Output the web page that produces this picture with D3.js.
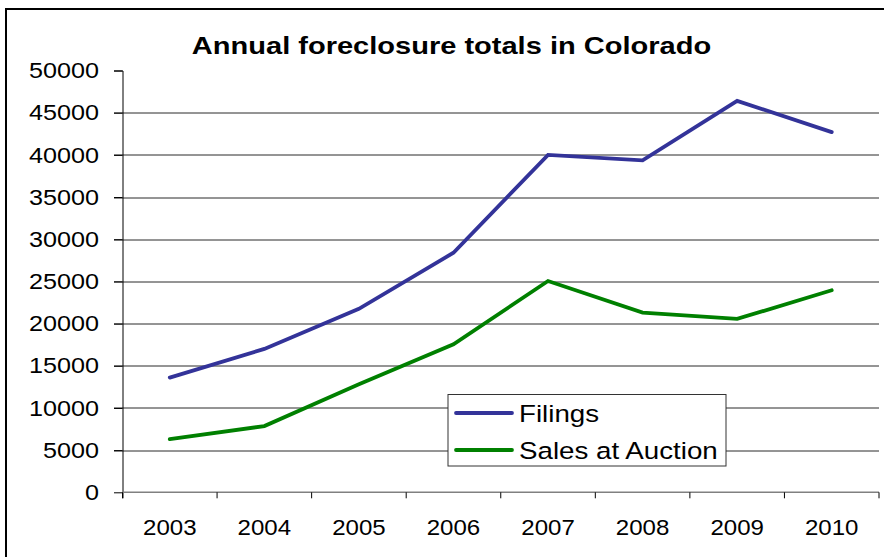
<!DOCTYPE html>
<html>
<head>
<meta charset="utf-8">
<script src="https://cdn.jsdelivr.net/npm/d3@7"></script>
<style>
  body { margin: 0; background: #fff; }
  text { font-family: "Liberation Sans", Arial, sans-serif; }
</style>
</head>
<body>
<div id="chart"></div>
<script>
// data
var years = ["2003", "2004", "2005", "2006", "2007", "2008", "2009", "2010"];
var filings = [13600, 17000, 21750, 28400, 40000, 39350, 46400, 42700];
var sales = [6300, 7850, 12800, 17550, 25050, 21300, 20550, 23950];
var yTicks = [0, 5000, 10000, 15000, 20000, 25000, 30000, 35000, 40000, 45000, 50000];
var seriesNames = ["Filings", "Sales at Auction"];

var svgWidth = 884;
var svgHeight = 557;

var margin = { top: 70.5, right: 5, bottom: 64.7, left: 122.5 };
var width = svgWidth - margin.left - margin.right;
var height = svgHeight - margin.top - margin.bottom;

// the picture's text is a bit wider than the font
var sx = 1.12;

var svg = d3.select("#chart")
  .append("svg")
  .attr("width", svgWidth)
  .attr("height", svgHeight);

// outer chart border, runs off the right and bottom
svg.append("rect")
  .attr("x", 6)
  .attr("y", 9)
  .attr("width", 900)
  .attr("height", 600)
  .attr("fill", "#fff")
  .attr("stroke", "#000")
  .attr("stroke-width", 2);

var chartGroup = svg.append("g")
  .attr("transform", `translate(${margin.left}, ${margin.top})`);

var xScale = d3.scaleBand()
  .domain(years)
  .range([0, width]);

var yScale = d3.scaleLinear()
  .domain([0, 50000])
  .range([height, 0]);

var xMid = d => xScale(d) + xScale.bandwidth() / 2;

// gridlines
chartGroup.append("g")
  .selectAll("line")
  .data(yTicks.filter(d => d > 0 && d < 50000))
  .enter()
  .append("line")
  .attr("x1", -8.5)
  .attr("x2", width)
  .attr("y1", d => Math.round(yScale(d)) + 0.5)
  .attr("y2", d => Math.round(yScale(d)) + 0.5)
  .attr("stroke", "#2a2a2a")
  .attr("stroke-width", 1);

// y axis
var leftAxis = d3.axisLeft(yScale)
  .tickValues(yTicks)
  .tickSize(8.5)
  .tickPadding(15)
  .tickFormat(d3.format("d"));

var yAxis = chartGroup.append("g").call(leftAxis);
yAxis.select(".domain").attr("stroke", "#000").attr("d", `M-8.5,0.5H0.5V${height + 6}`);
yAxis.selectAll(".tick line").attr("stroke", "#000");
yAxis.selectAll("text")
  .attr("x", -23.5 / sx)
  .attr("transform", `scale(${sx},1)`)
  .attr("font-size", "22.5px")
  .attr("fill", "#000");

// x axis
var bottomAxis = d3.axisBottom(xScale)
  .tickSize(0)
  .tickPadding(0)
  .tickFormat("");

var xAxis = chartGroup.append("g")
  .attr("transform", `translate(0, ${height})`)
  .call(bottomAxis);
xAxis.select(".domain").attr("stroke", "#808080").attr("stroke-width", 1.5).attr("d", `M0,0H${width}`);

xAxis.selectAll(".bound")
  .data(years.map(d => xScale(d)).concat([width]))
  .enter()
  .append("line")
  .attr("class", "bound")
  .attr("x1", d => d)
  .attr("x2", d => d)
  .attr("y1", 0)
  .attr("y2", 6)
  .attr("stroke", "#000");

chartGroup.append("g")
  .selectAll("text")
  .data(years)
  .enter()
  .append("text")
  .attr("transform", d => `translate(${xMid(d)}, ${height + 42.7}) scale(${sx},1)`)
  .attr("text-anchor", "middle")
  .attr("font-size", "21.5px")
  .text(d => d);

// lines
var line = d3.line()
  .x((d, i) => xMid(years[i]))
  .y(d => yScale(d));

var colors = ["#333399", "#008000"];

[filings, sales].forEach(function(values, i) {
  chartGroup.append("path")
    .datum(values)
    .attr("d", line)
    .attr("fill", "none")
    .attr("stroke", colors[i])
    .attr("stroke-width", 3.8)
    .attr("stroke-linejoin", "miter")
    .attr("stroke-linecap", "round");
});

// title
svg.append("text")
  .attr("transform", "translate(451.5, 53.5) scale(1.21,1)")
  .attr("text-anchor", "middle")
  .attr("font-size", "24px")
  .attr("font-weight", "bold")
  .text("Annual foreclosure totals in Colorado");

// legend
var legend = svg.append("g")
  .attr("transform", "translate(448, 394.5)");

legend.append("rect")
  .attr("width", 278)
  .attr("height", 71.5)
  .attr("fill", "#fff")
  .attr("stroke", "#333")
  .attr("stroke-width", 1);

seriesNames.forEach(function(name, i) {
  var y = 18.5 + i * 37;
  legend.append("line")
    .attr("x1", 8)
    .attr("x2", 64)
    .attr("y1", y)
    .attr("y2", y)
    .attr("stroke", colors[i])
    .attr("stroke-width", 3.8)
    .attr("stroke-linecap", "round");
  legend.append("text")
    .attr("transform", `translate(71, ${y + 8.5}) scale(1.18,1)`)
    .attr("font-size", "23.5px")
    .text(name);
});
</script>
</body>
</html>
